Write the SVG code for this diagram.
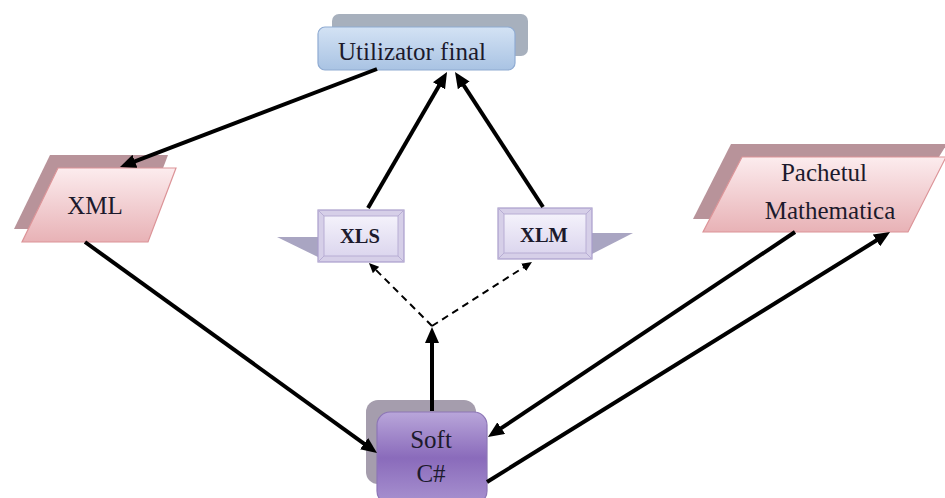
<svg xmlns="http://www.w3.org/2000/svg" width="945" height="498" viewBox="0 0 945 498">
<defs>
<linearGradient id="gBlue" x1="0" y1="0" x2="0" y2="1"><stop offset="0" stop-color="#d3e2f4"/><stop offset="1" stop-color="#a9c3e3"/></linearGradient>
<linearGradient id="gPink" x1="0" y1="0" x2="0" y2="1"><stop offset="0" stop-color="#fcecee"/><stop offset="1" stop-color="#e8b2b6"/></linearGradient>
<linearGradient id="gLav" x1="0" y1="0" x2="0" y2="1"><stop offset="0" stop-color="#f4f2fb"/><stop offset="1" stop-color="#dcd6ee"/></linearGradient>
<linearGradient id="gPurp" x1="0" y1="0" x2="0" y2="1"><stop offset="0" stop-color="#b9a6da"/><stop offset="0.5" stop-color="#8a6bbb"/><stop offset="1" stop-color="#a892d0"/></linearGradient>
<marker id="ah" viewBox="0 0 16 14" refX="5" refY="7" markerWidth="16" markerHeight="14" markerUnits="userSpaceOnUse" orient="auto"><path d="M0,0 L16,7 L0,14 z" fill="#000"/></marker>
<marker id="ahs" viewBox="0 0 10 9" refX="3" refY="4.5" markerWidth="10" markerHeight="9" markerUnits="userSpaceOnUse" orient="auto"><path d="M0,0 L10,4.5 L0,9 z" fill="#000"/></marker>
</defs>
<style>
text{font-family:"Liberation Serif","Times New Roman",serif;fill:#1c1a2c;text-anchor:middle}
.t{font-size:25px}
.b{font-size:20.5px;font-weight:bold}
.pink{fill:url(#gPink);stroke:#dc9498;stroke-width:1.2}
.pinkback{fill:#b8939a}
.bev{fill:#d6cfe8;stroke:#a99dcb;stroke-width:1.2}
.bevin{fill:url(#gLav);stroke:#b8aed4;stroke-width:1}
.bevl{stroke:#b8aed4;stroke-width:1}
.wedge{fill:#a9a5c2}
.c{stroke:#000;stroke-width:4;fill:none;marker-end:url(#ah)}
.d{stroke:#000;stroke-width:2;fill:none;stroke-dasharray:7 5;marker-end:url(#ahs)}
</style>
<rect width="945" height="498" fill="#fff"/>

<g id="utilizator">
<rect x="332" y="14" width="196" height="42" rx="7" fill="#a7b0bd"/>
<rect x="318" y="27" width="197" height="43" rx="7" fill="url(#gBlue)" stroke="#8fabd2" stroke-width="1.2"/>
<text class="t" x="412" y="60">Utilizator final</text>
</g>

<g id="xml">
<polygon class="pinkback" points="50,155 168,155 140,229 14,229"/>
<polygon class="pink" points="58,168 176,168 148,242 22,242"/>
<text class="t" x="95" y="214">XML</text>
</g>

<g id="xls">
<polygon class="wedge" points="277,237 320,237 320,258"/>
<rect class="bev" x="318" y="210" width="86" height="52"/>
<rect class="bevin" x="324" y="216" width="74" height="40"/>
<path class="bevl" d="M318,210 L324,216 M404,210 L398,216 M318,262 L324,256 M404,262 L398,256"/>
<text class="b" x="360" y="243">XLS</text>
</g>

<g id="xlm">
<polygon class="wedge" points="590,233 633,233 590,255"/>
<rect class="bev" x="498" y="208" width="94" height="51"/>
<rect class="bevin" x="504" y="214" width="82" height="39"/>
<path class="bevl" d="M498,208 L504,214 M592,208 L586,214 M498,259 L504,253 M592,259 L586,253"/>
<text class="b" x="544" y="242">XLM</text>
</g>

<g id="pachetul">
<polygon class="pinkback" points="731,144 947,144 900,219 693,219"/>
<polygon class="pink" points="742,157 946,157 908,232 703,232"/>
<text class="t" x="824" y="181">Pachetul</text>
<text class="t" x="830" y="219">Mathematica</text>
</g>

<g id="soft">
<rect x="366" y="400" width="110" height="84" rx="12" fill="#a59dad"/>
<rect x="377" y="412" width="110" height="92" rx="13" fill="url(#gPurp)" stroke="#8d76b6" stroke-width="1.2"/>
<text class="t" x="431" y="448">Soft</text>
<text class="t" x="431" y="482">C#</text>
</g>

<g id="connectors">
<path class="c" d="M377,69 L130.3,163.1"/>
<path class="c" d="M368,208 L441.5,81.5"/>
<path class="c" d="M543,207 L461,81.2"/>
<path class="c" d="M85,242 L368.1,446.6"/>
<path class="c" d="M795,232 L497.1,430.9"/>
<path class="c" d="M487,482 L880.7,237.8"/>
<path class="c" d="M432,411 L432,338"/>
<path class="d" d="M432,326 L373.9,267.9"/>
<path class="d" d="M432,326 L526.1,265.8"/>
</g>
</svg>
